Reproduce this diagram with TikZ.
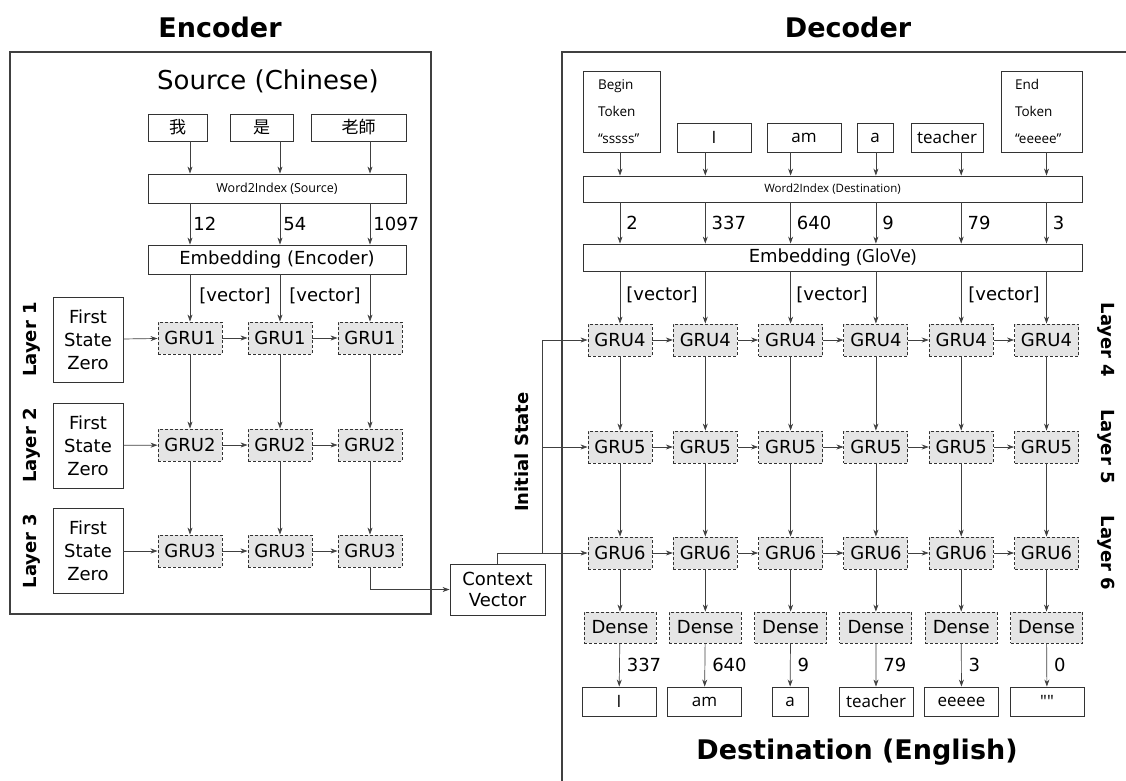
\documentclass[tikz,border=0pt]{standalone}
\usepackage{fontspec}
\setmainfont{DejaVu Sans}
\newfontfamily\opensans{Open Sans}
\newfontfamily\cjkfont{Noto Sans CJK TC}
\usetikzlibrary{shapes,arrows.meta,positioning}

\tikzset{
  box/.style={draw=black!80, line width=0.9pt, inner sep=0pt, font=\fontsize{18}{21}\selectfont},
  gru/.style={box, densely dashed, fill=black!10, minimum width=64pt, minimum height=32pt},
  dense/.style={gru, minimum width=72pt, minimum height=31pt},
  tok/.style={box, minimum height=29pt, minimum width=74pt, font=\opensans\fontsize{17}{20}\selectfont},
  bar/.style={box, minimum width=258pt, minimum height=29pt},
  num/.style={right, inner sep=3pt, font=\fontsize{18}{21}\selectfont},
  lbl/.style={inner sep=0pt, font=\fontsize{18}{21}\selectfont},
  layertxt/.style={font=\bfseries\fontsize{18}{21}\selectfont, rotate=90},
  head/.style={font=\bfseries\fontsize{27}{32}\selectfont},
  outline/.style={draw=black!75, line width=1.2pt},
  arr/.style={-{Stealth[length=7pt,width=5pt]}, draw=black!75, line width=0.7pt}
}

\begin{document}
\begin{tikzpicture}[x=1pt,y=-1pt]
\useasboundingbox (0,0) rectangle (1126,780);

% titles and frames
\node[head] (enctitle) at (220,27) {Encoder};
\node[head] (dectitle) at (848,27) {Decoder};
\draw[outline] (10,52) rectangle (431,614);
\draw[outline] (1140,52) -| (562,795);
\node[font=\fontsize{26}{30}\selectfont] (src) at (268,81) {Source (Chinese)};
\node[head] (dst) at (857,752) {Destination (English)};

% ---- encoder ----
\node[tok, font=\cjkfont\fontsize{17}{20}\selectfont, minimum width=59pt, minimum height=27pt] (zh1) at (177.5,127.5) {我};
\node[tok, font=\cjkfont\fontsize{17}{20}\selectfont, minimum width=63pt, minimum height=27pt] (zh2) at (261.5,127.5) {是};
\node[tok, font=\cjkfont\fontsize{17}{20}\selectfont, minimum width=95pt, minimum height=27pt] (zh3) at (358.5,127.5) {老師};
\node[bar, font=\opensans\fontsize{12.5}{15}\selectfont] (w2is) at (277,188.5) {Word2Index (Source)};
\node[bar] (embs) at (277,259.5) {Embedding (Encoder)};

\foreach \c/\x in {1/190,2/280,3/370}{
  \foreach \r/\y in {1/338,2/445,3/551}{
    \node[gru] (e\r\c) at (\x,\y) {GRU\r};
  }
}
\foreach \r/\y in {1/339.5,2/445.5,3/551}{
  \node[box, minimum width=70pt, minimum height=85pt, align=center, font=\fontsize{18}{23}\selectfont] (fs\r) at (88,\y) {First\\State\\Zero};
  \node[layertxt] (lay\r) at (32,\y) {Layer \r};
  \draw[arr] (fs\r) -- (e\r1);
  \draw[arr] (e\r1) -- (e\r2);
  \draw[arr] (e\r2) -- (e\r3);
}
\foreach \c in {1,2,3}{
  \draw[arr] (zh\c.south -| e1\c) -- (w2is.north -| e1\c);
  \draw[arr] (embs.south -| e1\c) -- (e1\c);
  \draw[arr] (e1\c) -- (e2\c);
  \draw[arr] (e2\c) -- (e3\c);
}
\draw[arr] (w2is.south -| e11) -- node[num] {12} (embs.north -| e11);
\draw[arr] (w2is.south -| e12) -- node[num] {54} (embs.north -| e12);
\draw[arr] (w2is.south -| e13) -- node[num] {1097} (embs.north -| e13);
\node[lbl] (ev1) at (235,296) {[vector]};
\node[lbl] (ev2) at (325,296) {[vector]};

% ---- context vector ----
\node[box, minimum width=95pt, minimum height=51pt, align=center] (ctx) at (497.5,589.5) {Context\\Vector};
\node[layertxt] (init) at (522,452) {Initial State};

% ---- decoder ----
\node[tok, minimum width=77pt, minimum height=81pt, text width=47pt, align=left, font=\opensans\fontsize{13.5}{27}\selectfont] (d1) at (621.5,111.5) {Begin\\Token\\“sssss”};
\node[tok] (d2) at (714,137.5) {I};
\node[tok] (d3) at (804,137.5) {am};
\node[tok, minimum width=36pt] (d4) at (875,137.5) {a};
\node[tok, minimum width=72pt] (d5) at (947,137.5) {teacher};
\node[tok, minimum width=81pt, minimum height=81pt, text width=53pt, align=left, font=\opensans\fontsize{13.5}{27}\selectfont] (d6) at (1041.5,111.5) {End\\Token\\“eeeee”};
\node[bar, minimum width=499pt, minimum height=26pt, font=\opensans\fontsize{11.5}{14}\selectfont] (w2id) at (832.5,189) {Word2Index (Destination)};
\node[bar, minimum width=499pt, minimum height=27pt] (embd) at (832.5,257.5) {Embedding {\opensans (GloVe)}};

\foreach \c/\x in {1/620,2/705.3,3/790.6,4/875.9,5/961.2,6/1046.5}{
  \foreach \r/\y in {4/340,5/447,6/553}{
    \node[gru] (g\r\c) at (\x,\y) {GRU\r};
  }
  \node[dense] (ds\c) at (\x,627.5) {Dense};
}
\node[tok] (o1) at (619,701.5) {I};
\node[tok] (o2) at (704.5,701.5) {am};
\node[tok, minimum width=36pt] (o3) at (790,701.5) {a};
\node[tok] (o4) at (876,701.5) {teacher};
\node[tok] (o5) at (961.5,701.5) {eeeee};
\node[tok] (o6) at (1047,701.5) {""};

\foreach \r in {4,5,6}{
  \node[layertxt, rotate=180] (lay\r) at (1106,{340+(\r-4)*106.5}) {Layer \r};
  \foreach \c [count=\n from 2] in {1,...,5}{
    \draw[arr] (g\r\c) -- (g\r\n);
  }
}
\foreach \c in {1,...,6}{
  \draw[arr] (d\c.south -| g4\c) -- (w2id.north -| g4\c);
  \draw[arr] (embd.south -| g4\c) -- (g4\c);
  \draw[arr] (g4\c) -- (g5\c);
  \draw[arr] (g5\c) -- (g6\c);
  \draw[arr] (g6\c) -- (ds\c);
}
\foreach \c/\v in {1/2,2/337,3/640,4/9,5/79,6/3}{
  \draw[arr] (w2id.south -| g4\c) -- node[num, inner sep=6pt] {\v} (embd.north -| g4\c);
}
\foreach \c/\v in {1/337,2/640,3/9,4/79,5/3,6/0}{
  \draw[arr] (ds\c) -- node[num, inner sep=7pt] {\v} (o\c);
}
\node[lbl] (dv1) at (662,295) {[vector]};
\node[lbl] (dv2) at (832,295) {[vector]};
\node[lbl] (dv3) at (1004,295) {[vector]};

% context to decoder
\draw[arr] (e33.south) |- (ctx.west);
\draw[arr] (ctx.north) |- (g61.west);
\coordinate (istate) at (542,553);
\draw[arr] (istate) |- (g41.west);
\draw[arr] (istate |- g51.west) -- (g51.west);
\end{tikzpicture}
\end{document}
